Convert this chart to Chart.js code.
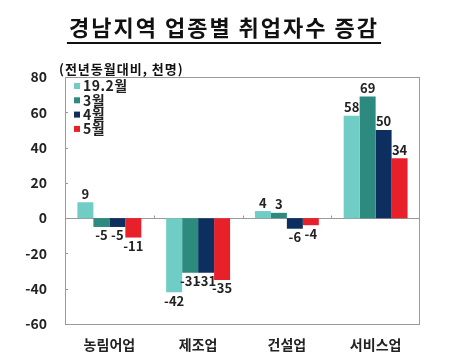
<!DOCTYPE html>
<html>
<head>
<meta charset="utf-8">
<script src="https://cdn.jsdelivr.net/npm/chart.js@4/dist/chart.umd.min.js"></script>
<style>
  html, body { margin: 0; padding: 0; background: #fff; }
  #wrap { width: 450px; height: 353px; position: relative; }
</style>
</head>
<body>
<div id="wrap"><canvas id="chart" width="450" height="353"></canvas></div>
<script>
const categories = ['농림어업', '제조업', '건설업', '서비스업'];
const seriesNames = ['19.2월', '3월', '4월', '5월'];
const feb = [9, -42, 4, 58];
const mar = [-5, -31, 3, 69];
const apr = [-5, -31, -6, 50];
const may = [-11, -35, -4, 34];
const yTicks = [80, 60, 40, 20, 0, -20, -40, -60];
const colors = ['#6fcdc6', '#2c8a7e', '#0d2f5f', '#e8202a'];

const FONT = '"Noto Sans CJK KR", "Noto Sans", sans-serif';

// title, unit, legend, frame, value labels
const decor = {
  id: 'decor',
  beforeDatasetsDraw(chart) {
    const { ctx, chartArea: a, scales: { x, y } } = chart;
    ctx.save();
    ctx.strokeStyle = '#9a9a9a';
    ctx.lineWidth = 1;
    ctx.strokeRect(a.left + 0.5, a.top + 0.5, a.right - a.left - 1, a.bottom - a.top);
    const y0 = Math.round(y.getPixelForValue(0)) + 0.5;
    ctx.beginPath();
    ctx.moveTo(a.left, y0);
    ctx.lineTo(a.right, y0);
    // small ticks between categories on zero line
    for (let i = 1; i < categories.length; i++) {
      const px = Math.round((x.getPixelForValue(i - 1) + x.getPixelForValue(i)) / 2) + 0.5;
      ctx.moveTo(px, y0 - 3);
      ctx.lineTo(px, y0);
    }
    // small ticks on y axis
    yTicks.forEach(v => {
      const py = Math.round(y.getPixelForValue(v)) + 0.5;
      ctx.moveTo(a.left, py);
      ctx.lineTo(a.left + 3, py);
    });
    ctx.stroke();
    ctx.restore();
  },
  afterDatasetsDraw(chart) {
    const { ctx } = chart;
    ctx.save();
    // title
    const title = '경남지역 업종별 취업자수 증감';
    ctx.fillStyle = '#111';
    ctx.font = 'bold 22px ' + FONT;
    ctx.letterSpacing = '2px';
    ctx.textAlign = 'center';
    ctx.textBaseline = 'alphabetic';
    ctx.fillText(title, 224, 36);
    const w = ctx.measureText(title).width;
    ctx.fillRect(224 - w / 2 - 2, 42, w + 4, 2);

    // unit
    ctx.font = 'bold 13px ' + FONT;
    ctx.letterSpacing = '1px';
    ctx.textAlign = 'left';
    ctx.textBaseline = 'middle';
    ctx.fillText('(전년동월대비, 천명)', 59, 69);

    // legend
    ctx.font = 'bold 14px ' + FONT;
    ctx.letterSpacing = '0.5px';
    seriesNames.forEach((n, i) => {
      const ly = 86 + i * 14.3;
      ctx.fillStyle = colors[i];
      ctx.fillRect(74, ly - 3, 6, 6);
      ctx.fillStyle = '#222';
      ctx.fillText(n, 83, ly);
    });

    // value labels
    ctx.font = 'bold 13px ' + FONT;
    ctx.letterSpacing = '0px';
    ctx.textAlign = 'center';
    chart.data.datasets.forEach((ds, di) => {
      const meta = chart.getDatasetMeta(di);
      meta.data.forEach((bar, i) => {
        const v = ds.data[i];
        ctx.fillStyle = '#222';
        if (v >= 0) {
          ctx.textBaseline = 'bottom';
          ctx.fillText(v, bar.x, bar.y - 2);
        } else {
          ctx.textBaseline = 'top';
          ctx.fillText(v, bar.x, bar.y + 2);
        }
      });
    });
    ctx.restore();
  }
};

new Chart(document.getElementById('chart'), {
  type: 'bar',
  data: {
    labels: categories,
    datasets: [feb, mar, apr, may].map((d, i) => ({
      label: seriesNames[i],
      data: d,
      backgroundColor: colors[i],
      barPercentage: 1,
      categoryPercentage: 0.72
    }))
  },
  options: {
    responsive: false,
    animation: false,
    layout: { padding: { left: 0, right: 30, top: 77, bottom: 0 } },
    plugins: { legend: { display: false }, tooltip: { enabled: false } },
    scales: {
      x: {
        grid: { display: false },
        border: { display: false },
        ticks: { color: '#222', font: { family: FONT, size: 14, weight: 'bold' }, padding: 4 },
        afterFit: s => { s.height = 29; }
      },
      y: {
        min: -60,
        max: 80,
        afterBuildTicks: s => { s.ticks = yTicks.map(v => ({ value: v })); },
        grid: { display: false },
        border: { display: false },
        ticks: { color: '#222', font: { family: FONT, size: 14, weight: 'bold' }, padding: 10 },
        afterFit: s => { s.width = 65; }
      }
    }
  },
  plugins: [decor]
});
</script>
</body>
</html>
